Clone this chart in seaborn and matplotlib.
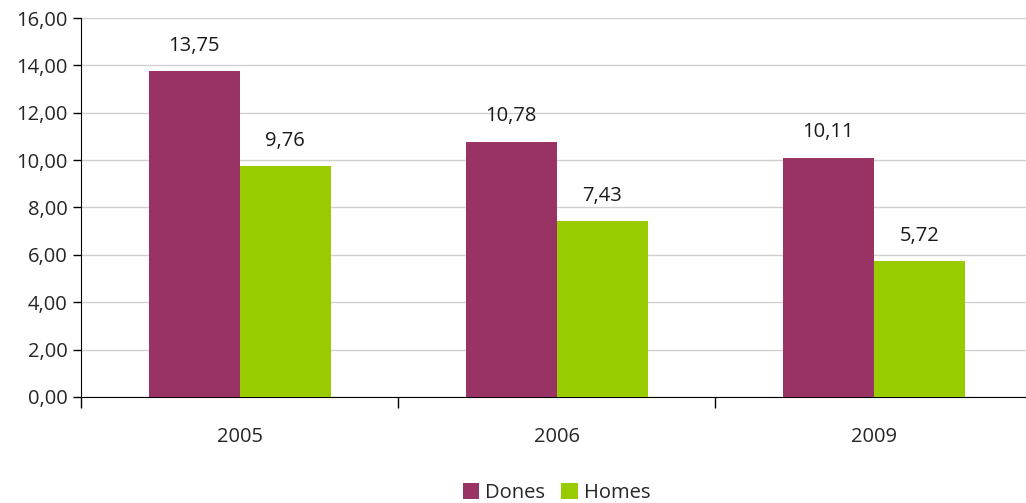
import matplotlib
matplotlib.use("Agg")
import matplotlib.pyplot as plt
import pandas as pd
import seaborn as sns

years = ["2005", "2006", "2009"]
dones = [13.75, 10.78, 10.11]
homes = [9.76, 7.43, 5.72]

df = pd.DataFrame({
    "year": years * 2,
    "value": dones + homes,
    "sex": ["Dones"] * 3 + ["Homes"] * 3,
})

sns.set_style("white")
plt.rcParams["font.family"] = ["Open Sans", "DejaVu Sans"]

fig = plt.figure(figsize=(10.26, 5.03), dpi=100)
ax = fig.add_axes([0.079, 0.211, 0.927, 0.753])

sns.barplot(data=df, x="year", y="value", hue="sex",
            palette={"Dones": "#993366", "Homes": "#99cc00"},
            width=0.574, saturation=1, linewidth=0, ax=ax, zorder=3)

for cont in ax.containers:
    labels = [f"{v:.2f}".replace(".", ",") for v in cont.datavalues]
    ax.bar_label(cont, labels=labels, padding=11, fontsize=14.5, color="#1a1a1a")

ax.set_ylim(0, 16)
ax.set_yticks(range(0, 17, 2))
ax.set_yticklabels([f"{v:.2f}".replace(".", ",") for v in range(0, 17, 2)], fontsize=14.5)
ax.set_xlim(-0.5, 2.5)
ax.set_xticks([-0.5, 0.5, 1.5, 2.5], minor=True)
ax.tick_params(axis="x", which="major", length=0, pad=22, labelsize=14.5)
ax.tick_params(axis="x", which="minor", bottom=True, length=8, width=1,
               color="black", direction="out")
ax.tick_params(axis="y", length=6, width=1, color="black", direction="out", left=True)
ax.set_xlabel("")
ax.set_ylabel("")
ax.grid(axis="y", color="#d0d0d0", linewidth=1, zorder=0)
for s in ["top", "right"]:
    ax.spines[s].set_visible(False)
ax.spines["left"].set_color("black")
ax.spines["bottom"].set_color("black")

ax.legend(loc="upper center", bbox_to_anchor=(0.5, -0.18), ncol=2, frameon=False,
          fontsize=14.5, handlelength=0.8, handleheight=0.8, handletextpad=0.3,
          columnspacing=0.8)

fig.savefig("out.png", dpi=100)
